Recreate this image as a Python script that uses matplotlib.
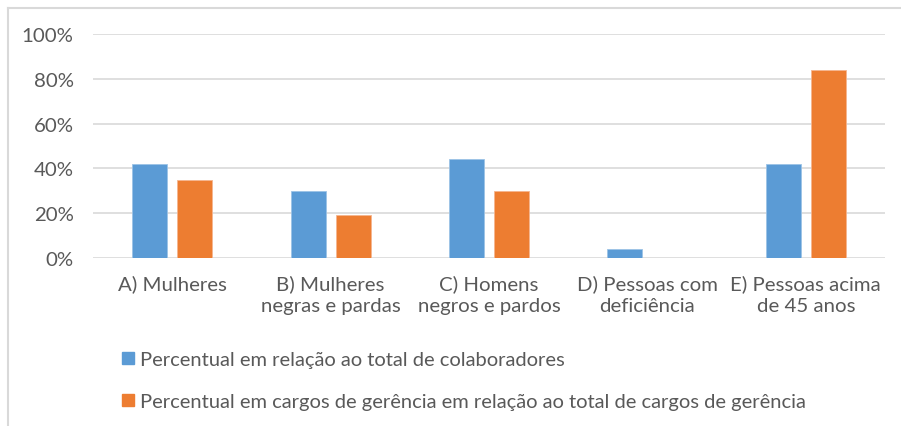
import numpy as np
import matplotlib.pyplot as plt
from matplotlib.lines import Line2D
from matplotlib.ticker import PercentFormatter

categories = ['A) Mulheres', 'B) Mulheres\nnegras e pardas', 'C) Homens\nnegros e pardos',
              'D) Pessoas com\ndeficiência', 'E) Pessoas acima\nde 45 anos']
colaboradores = [42, 30, 44, 4, 42]
gerencia = [35, 19, 30, 0, 84]
series_names = ['Percentual em relação ao total de colaboradores',
                'Percentual em cargos de gerência em relação ao total de cargos de gerência']

plt.rcParams['font.family'] = ['Lato', 'DejaVu Sans']
text_color = '#595959'
blue = '#5B9BD5'
orange = '#ED7D31'
fs = 14.7

W, H = 901, 427
fig = plt.figure(figsize=(W / 100, H / 100), dpi=100)
ax = fig.add_axes([93 / W, 1 - 259 / H, (885 - 93) / W, (259 - 35) / H])

x = np.arange(len(categories))
width = 0.22
offset = 0.142
ax.bar(x - offset, colaboradores, width, color=blue, edgecolor='#9cc3e6', linewidth=0.6,
       label=series_names[0], zorder=3)
ax.bar(x + offset, gerencia, width, color=orange, edgecolor='#f5b58f', linewidth=0.6,
       label=series_names[1], zorder=3)

ax.set_xlim(-0.5, len(categories) - 0.5)
ax.set_ylim(0, 100)
ax.set_yticks(np.arange(0, 101, 20))
ax.yaxis.set_major_formatter(PercentFormatter(decimals=0))
ax.set_xticks(x)
ax.set_xticklabels(categories, linespacing=1.3)
ax.tick_params(axis='y', length=0, pad=14, labelsize=fs, labelcolor=text_color)
ax.tick_params(axis='x', length=0, pad=12, labelsize=fs, labelcolor=text_color)
ax.grid(axis='y', color='#d9d9d9', linewidth=1.2, zorder=0)
for s in ax.spines.values():
    s.set_visible(False)

handles = [Line2D([], [], marker='s', linestyle='none', markersize=8,
                  markerfacecolor=c, markeredgecolor=c) for c in (blue, orange)]
fig.legend(handles, series_names, loc='upper left', bbox_to_anchor=(110 / W, 1 - 344 / H),
           frameon=False, fontsize=14.5, labelcolor=text_color, handlelength=1.0,
           handletextpad=0.1, labelspacing=1.25, borderaxespad=0)

# outer chart border (partly cropped in the original)
fig.add_artist(Line2D([8 / W, 1], [1 - 9 / H, 1 - 9 / H], color='#d9d9d9', linewidth=1.5,
                      transform=fig.transFigure))
fig.add_artist(Line2D([8 / W, 8 / W], [0, 1 - 9 / H], color='#d9d9d9', linewidth=1.5,
                      transform=fig.transFigure))

fig.savefig('out.png', dpi=100)
